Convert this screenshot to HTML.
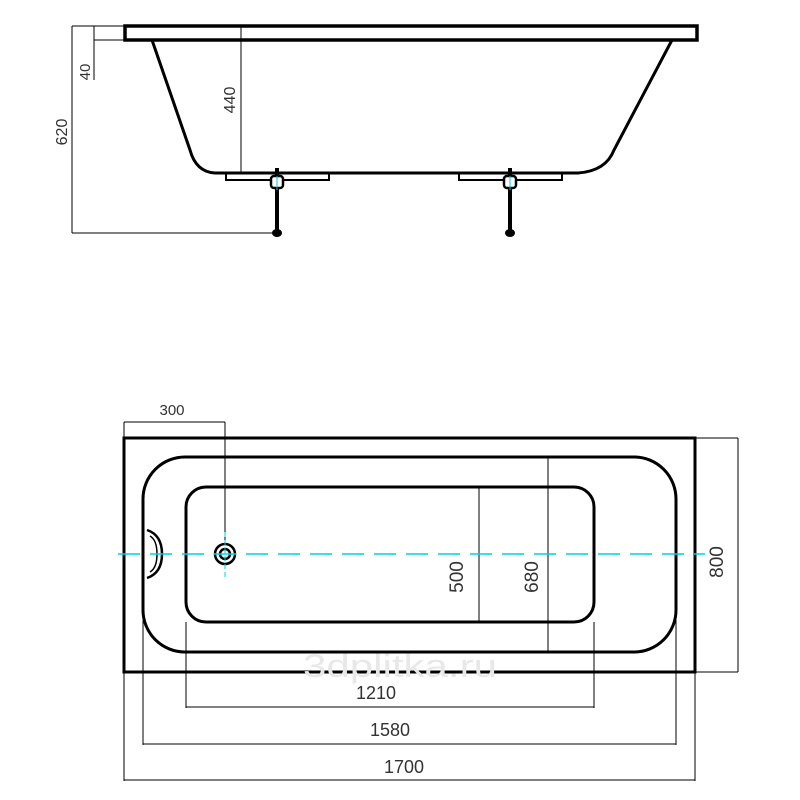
<!DOCTYPE html>
<html><head><meta charset="utf-8"><style>
html,body{margin:0;padding:0;background:#fff;}
svg{display:block;}
text{font-family:"Liberation Sans",sans-serif;fill:#333;}
</style></head><body>
<svg width="800" height="800" viewBox="0 0 800 800" xmlns="http://www.w3.org/2000/svg">
<!-- SIDE VIEW -->
<g fill="none" stroke="#000">
  <rect x="125" y="26" width="572" height="14" stroke-width="3.5"/>
  <path d="M152 40 L190 150 Q196 172 215 173 L578 173 Q606 171 614 150 L672 40" stroke-width="3"/>
  <path d="M226 173 L226 180 L329 180 L329 173" stroke-width="2"/>
  <path d="M459 173 L459 180 L562 180 L562 173" stroke-width="2"/>
  <line x1="277" y1="168" x2="277" y2="233" stroke-width="4"/>
  <line x1="510" y1="168" x2="510" y2="233" stroke-width="4"/>
  <rect x="271" y="176" width="12" height="12" rx="3" stroke-width="2.5" fill="#fff"/>
  <rect x="504" y="176" width="12" height="12" rx="3" stroke-width="2.5" fill="#fff"/>
  <line x1="241" y1="26" x2="241" y2="173" stroke-width="1"/>
  <line x1="94" y1="26" x2="94" y2="80" stroke-width="1"/>
  <line x1="94" y1="26" x2="125" y2="26" stroke-width="1"/>
  <line x1="94" y1="40" x2="125" y2="40" stroke-width="1"/>
  <line x1="72" y1="26" x2="72" y2="233" stroke-width="1"/>
  <line x1="72" y1="26" x2="125" y2="26" stroke-width="1"/>
  <line x1="72" y1="233" x2="277" y2="233" stroke-width="1"/>
</g>
<ellipse cx="277" cy="233" rx="5" ry="4" fill="#000"/>
<ellipse cx="510" cy="233" rx="5" ry="4" fill="#000"/>
<g stroke="#00c8d8" stroke-width="1"><line x1="277" y1="176" x2="277" y2="190"/><line x1="510" y1="176" x2="510" y2="190"/></g>
<text font-size="16" transform="translate(235,100) rotate(-90)" text-anchor="middle">440</text>
<text font-size="15" transform="translate(90,72) rotate(-90)" text-anchor="middle">40</text>
<text font-size="16" transform="translate(67,132) rotate(-90)" text-anchor="middle">620</text>

<!-- TOP VIEW -->
<g fill="none" stroke="#000">
  <rect x="124" y="438" width="571" height="234" stroke-width="3"/>
  <rect x="143" y="457" width="533" height="195" rx="42" stroke-width="3"/>
  <rect x="186" y="487" width="408" height="135" rx="20" stroke-width="3"/>
  <line x1="479" y1="487" x2="479" y2="622" stroke-width="1"/>
  <line x1="548" y1="457" x2="548" y2="652" stroke-width="1"/>
  <path d="M147 530 Q162 535 162 554 Q162 573 147 578" stroke-width="2.5"/>
  <path d="M150 536 Q157 540 157 554 Q157 568 150 572" stroke-width="1.5"/>
  <circle cx="225" cy="554" r="10" stroke-width="2.5"/>
  <circle cx="225" cy="554" r="5" stroke-width="2.5"/>
  <line x1="124" y1="422" x2="225" y2="422" stroke-width="1"/>
  <line x1="124" y1="422" x2="124" y2="438" stroke-width="1"/>
  <line x1="225" y1="422" x2="225" y2="545" stroke-width="1"/>
  <line x1="695" y1="438" x2="738" y2="438" stroke-width="1"/>
  <line x1="695" y1="672" x2="738" y2="672" stroke-width="1"/>
  <line x1="738" y1="438" x2="738" y2="672" stroke-width="1"/>
  <line x1="186" y1="622" x2="186" y2="708" stroke-width="1"/>
  <line x1="594" y1="622" x2="594" y2="708" stroke-width="1"/>
  <line x1="186" y1="707" x2="594" y2="707" stroke-width="1"/>
  <line x1="143" y1="620" x2="143" y2="745" stroke-width="1"/>
  <line x1="676" y1="620" x2="676" y2="745" stroke-width="1"/>
  <line x1="143" y1="744" x2="676" y2="744" stroke-width="1"/>
  <line x1="124" y1="672" x2="124" y2="781" stroke-width="1"/>
  <line x1="695" y1="672" x2="695" y2="781" stroke-width="1"/>
  <line x1="124" y1="780" x2="695" y2="780" stroke-width="1"/>
</g>
<line x1="118" y1="554" x2="705" y2="554" stroke="#00d0e0" stroke-width="1.5" stroke-dasharray="22,10"/>
<line x1="225" y1="532" x2="225" y2="577" stroke="#00d0e0" stroke-width="1" stroke-dasharray="5,3"/>
<text x="303" y="677" font-size="32" textLength="194" lengthAdjust="spacingAndGlyphs" style="fill:#e8e8e8">3dplitka.ru</text>
<text x="172" y="415" font-size="15" text-anchor="middle">300</text>
<text font-size="19" transform="translate(463,577) rotate(-90)" text-anchor="middle">500</text>
<text font-size="19" transform="translate(538,577) rotate(-90)" text-anchor="middle">680</text>
<text font-size="19" transform="translate(723,562) rotate(-90)" text-anchor="middle">800</text>
<text x="376" y="699" font-size="18" text-anchor="middle">1210</text>
<text x="390" y="736" font-size="18" text-anchor="middle">1580</text>
<text x="404" y="773" font-size="18" text-anchor="middle">1700</text>
</svg>
</body></html>
